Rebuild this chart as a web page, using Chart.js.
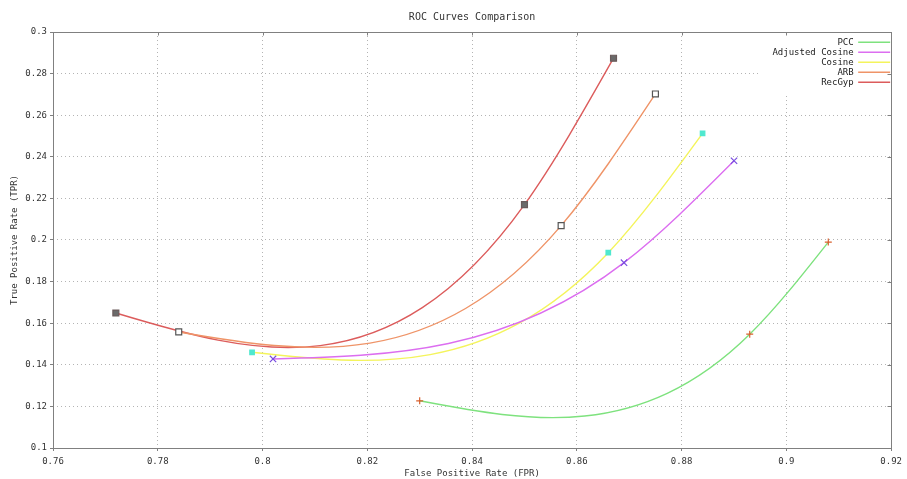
<!DOCTYPE html>
<html>
<head>
<meta charset="utf-8">
<style>
  html, body { margin: 0; padding: 0; background: #fff; }
  #wrap { width: 907px; height: 479px; }
</style>
<script src="https://cdn.jsdelivr.net/npm/chart.js@4/dist/chart.umd.min.js"></script>
</head>
<body>
<div id="wrap"><canvas id="roc" width="907" height="479"></canvas></div>
<script>
// tick labels
const xTicks = [0.76, 0.78, 0.8, 0.82, 0.84, 0.86, 0.88, 0.9, 0.92];
const yTicks = [0.1, 0.12, 0.14, 0.16, 0.18, 0.2, 0.22, 0.24, 0.26, 0.28, 0.3];

// series (FPR, TPR)
const seriesNames = ['PCC', 'Adjusted Cosine', 'Cosine', 'ARB', 'RecGyp'];
const pccFpr = [0.830, 0.893, 0.908];
const pccTpr = [0.1227, 0.1547, 0.1990];
const adjFpr = [0.802, 0.869, 0.890];
const adjTpr = [0.1428, 0.1891, 0.2381];
const cosFpr = [0.798, 0.866, 0.884];
const cosTpr = [0.1460, 0.1939, 0.2513];
const arbFpr = [0.784, 0.857, 0.875];
const arbTpr = [0.1558, 0.2069, 0.2702];
const recFpr = [0.772, 0.850, 0.867];
const recTpr = [0.1649, 0.2170, 0.2874];

const MONO = '"DejaVu Sans Mono", "Liberation Mono", monospace';
const KEY_FONT = 9, KEY_GAP = 1;

function toPoints(xs, ys) {
    return xs.map((x, i) => ({ x: x, y: ys[i] }));
}

// slopes of a natural cubic spline (like gnuplot "smooth csplines")
function splineSlopes(xs, ys) {
    const n = xs.length;
    const M = new Array(n).fill(0);
    if (n > 2) {
        const a = [], b = [], c = [], d = [];
        for (let i = 1; i < n - 1; i++) {
            const h0 = xs[i] - xs[i - 1], h1 = xs[i + 1] - xs[i];
            a.push(h0); b.push(2 * (h0 + h1)); c.push(h1);
            d.push(6 * ((ys[i + 1] - ys[i]) / h1 - (ys[i] - ys[i - 1]) / h0));
        }
        const m = b.length;
        for (let i = 1; i < m; i++) {
            const w = a[i] / b[i - 1];
            b[i] -= w * c[i - 1];
            d[i] -= w * d[i - 1];
        }
        const sol = new Array(m);
        sol[m - 1] = d[m - 1] / b[m - 1];
        for (let i = m - 2; i >= 0; i--) sol[i] = (d[i] - c[i] * sol[i + 1]) / b[i];
        for (let i = 0; i < m; i++) M[i + 1] = sol[i];
    }
    const s = [];
    for (let i = 0; i < n; i++) {
        if (i < n - 1) {
            const h = xs[i + 1] - xs[i];
            s.push((ys[i + 1] - ys[i]) / h - h * (2 * M[i] + M[i + 1]) / 6);
        } else {
            const h = xs[i] - xs[i - 1];
            s.push((ys[i] - ys[i - 1]) / h + h * (M[i - 1] + 2 * M[i]) / 6);
        }
    }
    return s;
}

// set the bezier control points of each line so chart.js draws the spline
const csplines = {
    id: 'csplines',
    beforeDatasetDraw(chart, args) {
        const meta = args.meta;
        const line = meta.dataset;
        if (!line || typeof line.updateControlPoints !== 'function') return;
        line.updateControlPoints(chart.chartArea, meta.indexAxis);
        const raw = chart.data.datasets[args.index].data;
        const xs = raw.map(p => p.x), ys = raw.map(p => p.y);
        const sl = splineSlopes(xs, ys);
        const xs_ = chart.scales.x, ys_ = chart.scales.y;
        const pts = meta.data;
        for (let i = 0; i < pts.length; i++) {
            const p = pts[i];
            if (i > 0) {
                const h = (xs[i] - xs[i - 1]) / 3;
                p.cp1x = xs_.getPixelForValue(xs[i] - h);
                p.cp1y = ys_.getPixelForValue(ys[i] - sl[i] * h);
            }
            if (i < pts.length - 1) {
                const h = (xs[i + 1] - xs[i]) / 3;
                p.cp2x = xs_.getPixelForValue(xs[i] + h);
                p.cp2y = ys_.getPixelForValue(ys[i] + sl[i] * h);
            }
        }
        line._path = undefined;
    }
};

// legend in the top right corner of the plot, on a white key box (gnuplot style)
const keyTopRight = {
    id: 'keyTopRight',
    afterLayout(chart) {
        const lg = chart.legend, a = chart.chartArea;
        if (!lg) return;
        const w = lg.width, h = lg.height;
        lg.left = a.right - w;
        lg.right = a.right;
        lg.top = a.top;
        lg.bottom = a.top + h;
        if (!lg._keyDraw) {
            lg._keyDraw = lg.draw;
            lg.draw = function () {};
        }
    },
    beforeDatasetsDraw(chart) {
        const lg = chart.legend, ctx = chart.ctx;
        if (!lg || !lg._keyDraw) return;
        const n = (lg.legendItems || []).length;
        const keyH = 5 + n * (KEY_FONT + KEY_GAP) + 6;
        ctx.save();
        ctx.fillStyle = '#ffffff';
        ctx.fillRect(lg.left - 2, lg.top + 1, lg.width + 1, keyH);
        ctx.restore();
        lg._keyDraw.call(lg, chart.chartArea);
    }
};

// box round the plot area, with mirrored ticks on top and right
const frame = {
    id: 'frame',
    afterDatasetsDraw(chart) {
        const { ctx, chartArea: a, scales } = chart;
        const L = Math.round(a.left) + 0.5, T = Math.round(a.top) + 0.5;
        const R = Math.round(a.right) + 0.5, B = Math.round(a.bottom) + 0.5;
        ctx.save();
        ctx.strokeStyle = '#808080';
        ctx.lineWidth = 1;
        ctx.beginPath();
        scales.x.ticks.forEach((t, i) => {
            const px = Math.round(scales.x.getPixelForTick(i)) + 0.5;
            ctx.moveTo(px, T); ctx.lineTo(px, T + 3);
        });
        scales.y.ticks.forEach((t, i) => {
            const py = Math.round(scales.y.getPixelForTick(i)) + 0.5;
            ctx.moveTo(R, py); ctx.lineTo(R - 4, py);
        });
        ctx.stroke();
        ctx.strokeRect(L, T, R - L, B - T);
        ctx.restore();
    }
};

function series(label, xs, ys, color, style, ptFill, ptBorder, radius) {
    return {
        label: label,
        data: toPoints(xs, ys),
        borderColor: color,
        backgroundColor: color,
        borderWidth: 1.4,
        tension: 0.4,
        pointStyle: style,
        pointRadius: radius,
        pointBackgroundColor: ptFill,
        pointBorderColor: ptBorder,
        pointBorderWidth: 1.2
    };
}

const datasets = [
    series(seriesNames[0], pccFpr, pccTpr, '#7ee27e', 'cross', '#d8602e', '#d8602e', 3.5),
    series(seriesNames[1], adjFpr, adjTpr, '#dc6ef0', 'crossRot', '#7a4ee0', '#7a4ee0', 4.5),
    series(seriesNames[2], cosFpr, cosTpr, '#f4f45c', 'rect', '#4fe8cf', '#4fe8cf', 3.2),
    series(seriesNames[3], arbFpr, arbTpr, '#ef9468', 'rect', '#ffffff', '#555555', 4.2),
    series(seriesNames[4], recFpr, recTpr, '#dc5c5c', 'rect', '#6a6a6a', '#6a5a5a', 4.2)
];

const gridStyle = {
    color: '#b4b4b4',
    lineWidth: 1,
    drawTicks: true,
    tickLength: 3,
    tickColor: '#808080',
    tickBorderDash: []
};
const borderStyle = { display: false, dash: [1, 3] };

new Chart(document.getElementById('roc'), {
    type: 'line',
    data: { datasets: datasets },
    options: {
        responsive: false,
        animation: false,
        layout: { padding: { top: 0, right: 14, bottom: 0, left: 0 } },
        scales: {
            x: {
                type: 'linear',
                min: 0.76,
                max: 0.92,
                grid: gridStyle,
                border: borderStyle,
                afterBuildTicks: s => { s.ticks = xTicks.map(v => ({ value: v })); },
                afterFit: s => { s.height = 31; },
                ticks: {
                    padding: 5,
                    maxRotation: 0,
                    autoSkip: false,
                    color: '#333',
                    font: { family: MONO, size: 9 },
                    callback: v => String(v)
                },
                title: {
                    display: true,
                    text: 'False Positive Rate (FPR)',
                    color: '#333',
                    font: { family: MONO, size: 9 },
                    padding: { top: 0, bottom: 0 }
                }
            },
            y: {
                type: 'linear',
                min: 0.1,
                max: 0.3,
                grid: gridStyle,
                border: borderStyle,
                afterBuildTicks: s => { s.ticks = yTicks.map(v => ({ value: v })); },
                afterFit: s => { s.width = 53; },
                ticks: {
                    padding: 3,
                    autoSkip: false,
                    color: '#333',
                    font: { family: MONO, size: 9 },
                    callback: v => String(v)
                },
                title: {
                    display: true,
                    text: 'True Positive Rate (TPR)',
                    color: '#333',
                    font: { family: MONO, size: 9 },
                    padding: { top: 9, bottom: 0 }
                }
            }
        },
        plugins: {
            title: {
                display: true,
                fullSize: false,
                text: 'ROC Curves Comparison',
                color: '#333',
                font: { family: MONO, size: 10, weight: 'normal' },
                padding: { top: 11, bottom: 9 }
            },
            legend: {
                position: 'chartArea',
                align: 'start',
                rtl: true,
                title: { display: true, text: '', padding: 0, font: { size: 4 } },
                labels: {
                    boxWidth: 32,
                    boxHeight: 0,
                    padding: KEY_GAP,
                    color: '#222',
                    font: { family: MONO, size: KEY_FONT }
                }
            },
            tooltip: { enabled: false }
        }
    },
    plugins: [csplines, keyTopRight, frame]
});
</script>
</body>
</html>
